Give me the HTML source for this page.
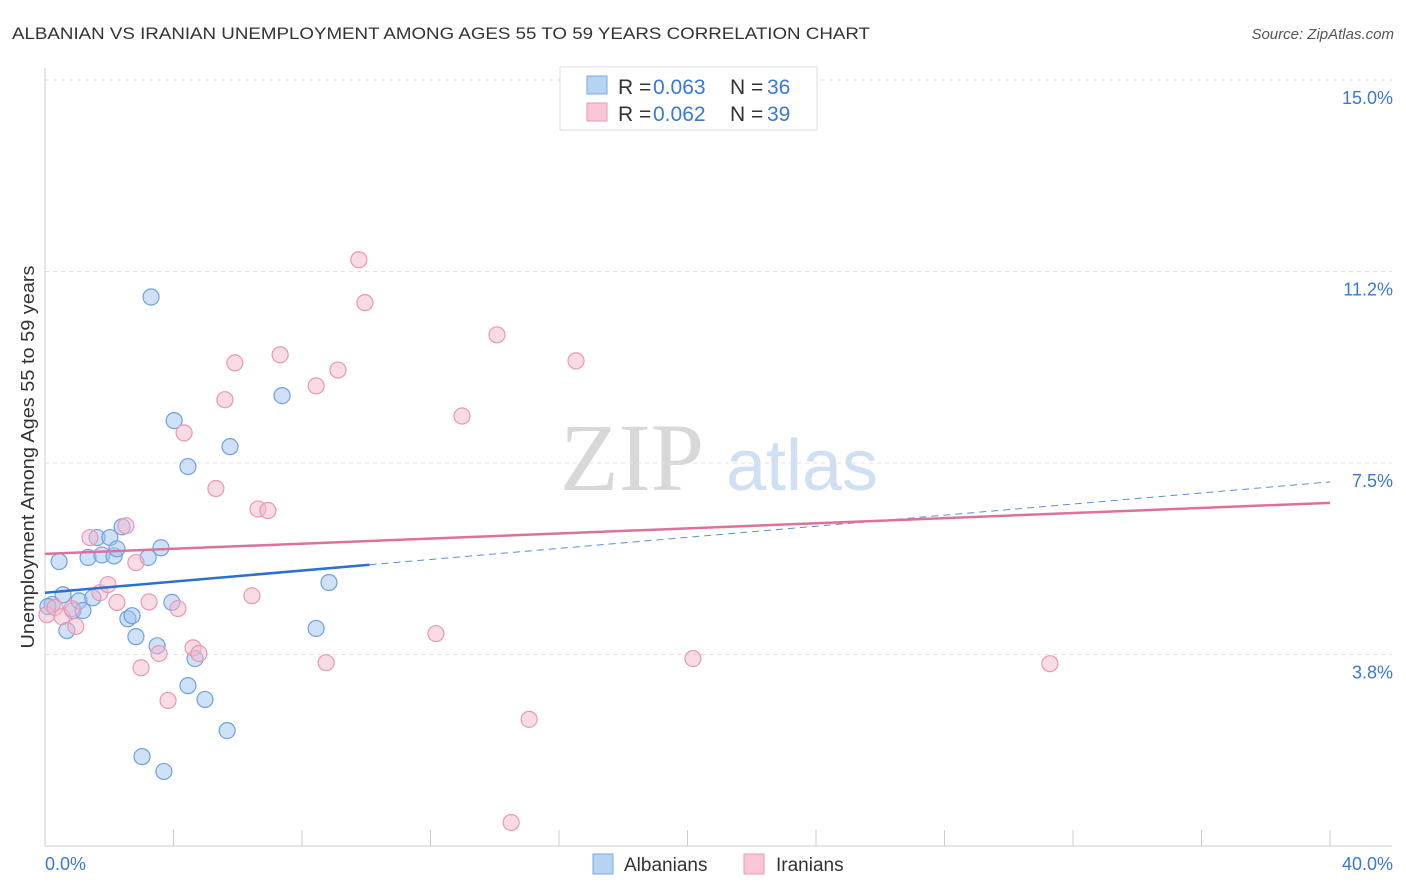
<!DOCTYPE html>
<html><head><meta charset="utf-8">
<style>
body{margin:0;background:#fff;font-family:"Liberation Sans",sans-serif;}
svg{display:block}
</style></head>
<body>
<svg id="chart" width="1406" height="892" viewBox="0 0 1406 892">
<text x="12" y="39" font-size="17" fill="#333" textLength="858" lengthAdjust="spacingAndGlyphs">ALBANIAN VS IRANIAN UNEMPLOYMENT AMONG AGES 55 TO 59 YEARS CORRELATION CHART</text>
<text x="1394" y="39" font-size="15" fill="#555" font-style="italic" text-anchor="end">Source: ZipAtlas.com</text>
<g>
<text x="632" y="490" font-size="96" font-family="Liberation Serif,serif" fill="#d8d8d8" text-anchor="middle">ZIP</text>
<text x="802" y="490" font-size="72" fill="#cfe0f4" text-anchor="middle">atlas</text>
</g>
<g id="grid"></g>
<g id="axes"></g>
<g id="points"></g>
<g id="trends"></g>
<text transform="translate(34,457) rotate(-90)" font-size="18" fill="#333" text-anchor="middle" textLength="383" lengthAdjust="spacingAndGlyphs">Unemployment Among Ages 55 to 59 years</text>
<g>
<rect x="560" y="67" width="257" height="63" fill="#fff" stroke="#ddd"/>
<rect x="587" y="76" width="20" height="18" fill="#b7d3f4" stroke="#7aaae6"/>
<text y="94" font-size="21" fill="#333"><tspan x="618">R =</tspan><tspan x="653" fill="#3a78d4">0.063</tspan><tspan x="730">N =</tspan><tspan x="767" fill="#3a78d4">36</tspan></text>
<rect x="587" y="103" width="20" height="18" fill="#f8c6d6" stroke="#eb9ab5"/>
<text y="121" font-size="21" fill="#333"><tspan x="618">R =</tspan><tspan x="653" fill="#3a78d4">0.062</tspan><tspan x="730">N =</tspan><tspan x="767" fill="#3a78d4">39</tspan></text>
</g>
<g>
<rect x="593" y="854" width="20" height="20" fill="#b7d3f4" stroke="#7aaae6"/>
<text x="624" y="871" font-size="19" fill="#333">Albanians</text>
<rect x="744" y="854" width="20" height="20" fill="#f8c6d6" stroke="#eb9ab5"/>
<text x="776" y="871" font-size="19" fill="#333">Iranians</text>
</g>
</svg>
<script>
const yTicks=[3.75,7.5,11.25,15];
const yTickLabels=["3.8%","7.5%","11.2%","15.0%"];
const xTickCount=10;
const xLabels=["0.0%","40.0%"];
const albX=[0.22,0.44,0.56,0.68,0.87,1.06,1.18,1.34,1.49,1.62,1.77,2.02,2.15,2.24,2.40,2.58,2.71,2.83,3.02,3.21,3.30,3.49,3.61,3.70,3.95,4.02,4.45,4.45,4.67,4.98,5.67,5.76,7.38,8.44,8.84,0.09];
const albY=[4.73,5.57,4.92,4.22,4.61,4.80,4.61,5.65,4.86,6.04,5.70,6.04,5.68,5.82,6.25,4.45,4.51,4.10,1.75,5.65,10.75,3.92,5.84,1.46,4.77,8.33,3.14,7.43,3.67,2.87,2.26,7.82,8.82,4.26,5.16,4.69];
const iraX=[0.06,0.31,0.53,0.84,0.96,1.40,1.71,1.96,2.24,2.52,2.83,2.99,3.24,3.55,3.83,4.14,4.33,4.61,4.79,5.32,5.60,5.91,6.44,6.63,6.94,7.32,8.44,8.75,9.12,9.77,9.96,12.17,12.98,14.07,14.51,15.07,16.53,20.17,31.28];
const iraY=[4.53,4.67,4.49,4.65,4.30,6.04,4.96,5.12,4.77,6.27,5.55,3.49,4.78,3.77,2.85,4.65,8.09,3.88,3.77,7.00,8.74,9.46,4.90,6.60,6.57,9.62,9.01,3.59,9.32,11.48,10.64,4.16,8.42,10.01,0.46,2.48,9.50,3.67,3.57];
const albTrend=[4.96,7.13]; const albSolidEnd=10.1;
const iraTrend=[5.72,6.72];
const X0=45,X1=1330,Y0=846,Y15=80;
const sx=v=>X0+(v/40)*(X1-X0);
const sy=v=>Y0-(v/15)*(Y0-Y15);
const NS="http://www.w3.org/2000/svg";
function mk(tag,attrs,parent){const e=document.createElementNS(NS,tag);for(const k in attrs)e.setAttribute(k,attrs[k]);document.getElementById(parent).appendChild(e);return e;}
yTicks.forEach((t,i)=>{
 const l=mk('line',{x1:X0,x2:1392,y1:sy(t),y2:sy(t),stroke:'#e2e2e2','stroke-dasharray':'4,4'},'grid');
 
 
 const tx=mk('text',{x:1393,y:sy(t)+24,'font-size':18,fill:'#3a78d4','text-anchor':'end'},'axes');
 tx.textContent=yTickLabels[i];
 
 
});
let ax=mk('line',{x1:X0,x2:X0,y1:68,y2:Y0,stroke:'#ccc'},'axes');


ax=mk('line',{x1:X0,x2:1392,y1:Y0,y2:Y0,stroke:'#ccc'},'axes');


for(let i=0;i<=xTickCount;i++){
 const x=sx(i*40/xTickCount);
 const t=mk('line',{x1:x,x2:x,y1:830,y2:Y0,stroke:'#ccc'},'axes');
 
 
}
let xl=mk('text',{x:45,y:870,'font-size':18,fill:'#3a78d4'},'axes');xl.textContent=xLabels[0];


xl=mk('text',{x:1393,y:870,'font-size':18,fill:'#3a78d4','text-anchor':'end'},'axes');xl.textContent=xLabels[1];


albX.forEach((v,i)=>{
 const c=mk('circle',{cx:sx(v),cy:sy(albY[i]),r:8,fill:'rgba(160,196,240,0.5)',stroke:'#6fa0e0','stroke-width':1.2},'points');
 
 
});
iraX.forEach((v,i)=>{
 const c=mk('circle',{cx:sx(v),cy:sy(iraY[i]),r:8,fill:'rgba(244,184,204,0.5)',stroke:'#e898b2','stroke-width':1.2},'points');
 
 
});
const at=v=>albTrend[0]+(albTrend[1]-albTrend[0])*v/40;
let ln=mk('line',{x1:sx(albSolidEnd),y1:sy(at(albSolidEnd)),x2:sx(40),y2:sy(albTrend[1]),stroke:'#5a8fd8','stroke-width':1,'stroke-dasharray':'7,5'},'trends');


ln=mk('line',{x1:sx(0),y1:sy(albTrend[0]),x2:sx(albSolidEnd),y2:sy(at(albSolidEnd)),stroke:'#2a6fd4','stroke-width':2.5},'trends');


ln=mk('line',{x1:sx(0),y1:sy(iraTrend[0]),x2:sx(40),y2:sy(iraTrend[1]),stroke:'#e0709a','stroke-width':2.5},'trends');


</script>
</body></html>
